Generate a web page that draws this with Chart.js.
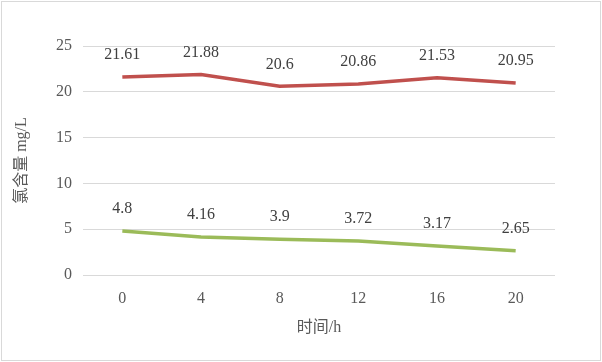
<!DOCTYPE html>
<html>
<head>
<meta charset="utf-8">
<script src="https://cdn.jsdelivr.net/npm/chart.js@4/dist/chart.umd.min.js"></script>
<style>
  html, body { margin: 0; padding: 0; background: #fff; }
  #wrap { position: relative; width: 602px; height: 362px; }
  #frame { position: absolute; left: 1px; top: 1px; width: 600px; height: 360px;
           box-sizing: border-box; border: 1px solid #d9d9d9; pointer-events: none; }
</style>
</head>
<body>
<div id="wrap">
  <canvas id="chlorChart" width="602" height="362"></canvas>
  <div id="frame"></div>
</div>
<script>
// 数据
const hours = ['0', '4', '8', '12', '16', '20'];
const seriesRed = [21.61, 21.88, 20.6, 20.86, 21.53, 20.95];
const seriesGreen = [4.8, 4.16, 3.9, 3.72, 3.17, 2.65];
const yTicks = [0, 5, 10, 15, 20, 25];

const FONT = "'Times New Roman', 'Liberation Serif', 'Noto Sans CJK SC', serif";

// 数据标签
const pointLabels = {
    id: 'pointLabels',
    afterDatasetsDraw(chart) {
        const ctx = chart.ctx;
        ctx.save();
        ctx.font = '16px ' + FONT;
        ctx.fillStyle = '#404040';
        ctx.textAlign = 'center';
        ctx.textBaseline = 'middle';
        chart.data.datasets.forEach((ds, i) => {
            chart.getDatasetMeta(i).data.forEach((pt, j) => {
                ctx.fillText(String(ds.data[j]), pt.x, pt.y - 22);
            });
        });
        ctx.restore();
    }
};

const ctx = document.getElementById('chlorChart').getContext('2d');
new Chart(ctx, {
    type: 'line',
    data: {
        labels: hours,
        datasets: [
            {
                data: seriesRed,
                borderColor: '#C0504D',
                borderWidth: 3.5,
                pointRadius: 0,
                tension: 0,
                fill: false
            },
            {
                data: seriesGreen,
                borderColor: '#9BBB59',
                borderWidth: 3.5,
                pointRadius: 0,
                tension: 0,
                fill: false
            }
        ]
    },
    options: {
        responsive: false,
        animation: false,
        devicePixelRatio: 1,
        layout: { padding: { left: 0, right: 47, top: 46, bottom: 0 } },
        plugins: { legend: { display: false }, tooltip: { enabled: false } },
        scales: {
            x: {
                offset: true,
                grid: { display: false, drawTicks: false },
                border: { display: false },
                ticks: { color: '#595959', font: { family: FONT, size: 16 }, padding: 14 },
                title: {
                    display: true,
                    text: '时间/h',
                    color: '#595959',
                    font: { family: FONT, size: 16 },
                    padding: { top: 0, bottom: 25 }
                },
                afterFit(scale) { scale.height = 87; }
            },
            y: {
                min: 0,
                max: 25,
                afterBuildTicks(scale) { scale.ticks = yTicks.map(v => ({ value: v })); },
                grid: { color: '#d9d9d9', drawTicks: false },
                border: { display: false },
                ticks: { color: '#595959', font: { family: FONT, size: 16 }, padding: 11 },
                title: {
                    display: true,
                    text: '氯含量 mg/L',
                    color: '#595959',
                    font: { family: FONT, size: 16 },
                    padding: { top: 12, bottom: 0 }
                },
                afterFit(scale) { scale.width = 83; }
            }
        }
    },
    plugins: [pointLabels]
});
</script>
</body>
</html>
